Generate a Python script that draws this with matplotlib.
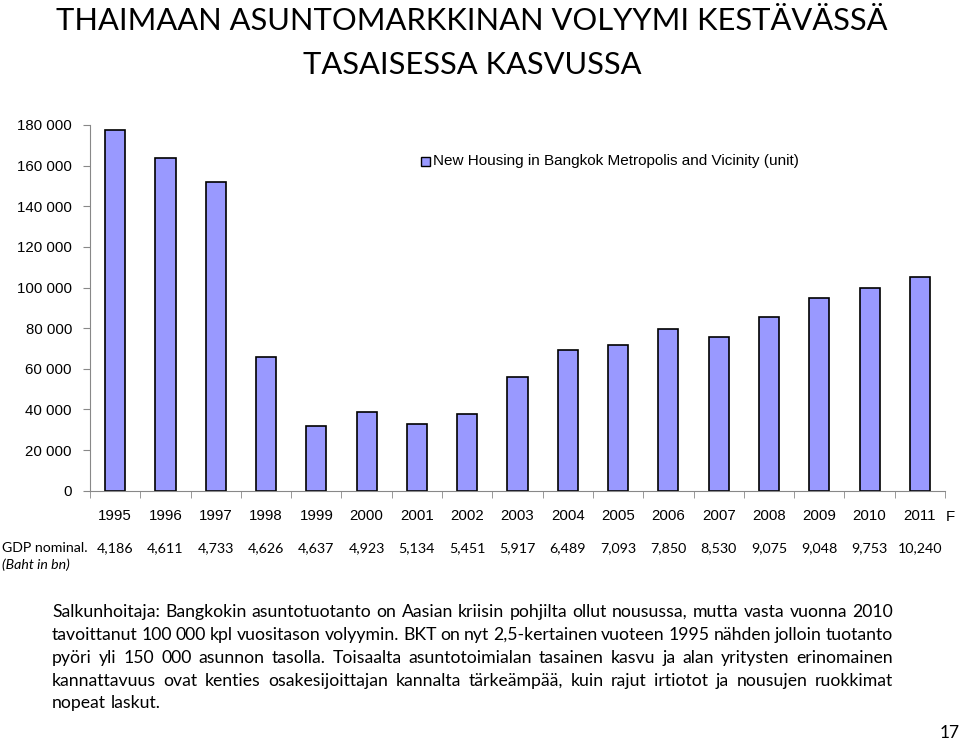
import matplotlib
matplotlib.use("Agg")
import matplotlib.pyplot as plt
import matplotlib.transforms as mtransforms
from matplotlib.patches import Rectangle

years = ["1995", "1996", "1997", "1998", "1999", "2000", "2001", "2002", "2003",
         "2004", "2005", "2006", "2007", "2008", "2009", "2010", "2011"]
housing = [177400, 163900, 152100, 65800, 32000, 38600, 32700, 37900, 56100,
           69300, 71700, 79700, 75600, 85600, 95000, 99900, 105000]
gdp = ["4,186", "4,611", "4,733", "4,626", "4,637", "4,923", "5,134", "5,451",
       "5,917", "6,489", "7,093", "7,850", "8,530", "9,075", "9,048", "9,753",
       "10,240"]
yticks = [0, 20000, 40000, 60000, 80000, 100000, 120000, 140000, 160000, 180000]

title_lines = ["THAIMAAN ASUNTOMARKKINAN VOLYYMI KESTÄVÄSSÄ", "TASAISESSA KASVUSSA"]
legend_label = "New Housing in Bangkok Metropolis and Vicinity (unit)"
para = [
    "Salkunhoitaja: Bangkokin asuntotuotanto on Aasian kriisin pohjilta ollut nousussa, mutta vasta vuonna 2010",
    "tavoittanut 100 000 kpl vuositason volyymin. BKT on nyt 2,5-kertainen vuoteen 1995 nähden jolloin tuotanto",
    "pyöri yli 150 000 asunnon tasolla. Toisaalta asuntotoimialan tasainen kasvu ja alan yritysten erinomainen",
    "kannattavuus ovat kenties osakesijoittajan kannalta tärkeämpää, kuin rajut irtiotot ja nousujen ruokkimat",
    "nopeat laskut.",
]

W, H = 960, 741
fig = plt.figure(figsize=(W / 100, H / 100), dpi=100)
chart_font = "Liberation Sans"
text_font = "Lato"

ax = fig.add_axes([90 / W, 1 - 490.7 / H, 855 / W, 365.7 / H])
x = range(len(years))
ax.bar(x, housing, width=0.4, color="#9999FF", edgecolor="black", linewidth=1.2,
       label=legend_label)
ax.set_xlim(-0.5, len(years) - 0.5)
ax.set_ylim(0, 180000)
ax.set_yticks(yticks)
ax.set_yticklabels([f"{v:,}".replace(",", " ") for v in yticks],
                   fontsize=10.8, family=chart_font)
ax.set_xticks(list(x))
ax.set_xticklabels(years, fontsize=10.8, family=chart_font)
ax.set_xticks([i - 0.5 for i in range(len(years) + 1)], minor=True)
ax.tick_params(axis="x", which="major", length=0, pad=13)
ax.tick_params(axis="x", which="minor", length=5, color="#888888", direction="out")
ax.tick_params(axis="y", length=5, color="#888888", direction="out", pad=8)
for s in ["top", "right"]:
    ax.spines[s].set_visible(False)
for s in ["left", "bottom"]:
    ax.spines[s].set_color("#888888")

# "F" after 2011
ax.text(len(years) - 0.5 + 0.02, -0.072, "F", transform=ax.get_xaxis_transform(),
        fontsize=10.8, family=chart_font, ha="left", va="center")

# legend
fig.patches.append(Rectangle((421 / W, 1 - 166 / H), 9 / W, 9 / H,
                             transform=fig.transFigure, facecolor="#9999FF",
                             edgecolor="black", linewidth=1.0))
fig.text(433 / W, 1 - 161.5 / H, legend_label, fontsize=11, family=chart_font,
         va="center", ha="left")

# title
fig.text(472 / W, 1 - 21 / H, title_lines[0], fontsize=22.2, family=text_font,
         ha="center", va="center")
fig.text(472 / W, 1 - 65 / H, title_lines[1], fontsize=22.2, family=text_font,
         ha="center", va="center")

# GDP row
fig.text(2 / W, 1 - 548 / H, "GDP nominal.", fontsize=10.2, family=text_font,
         ha="left", va="center")
fig.text(2 / W, 1 - 565 / H, "(Baht in bn)", fontsize=10.2, family=text_font,
         style="italic", ha="left", va="center")
trans = mtransforms.blended_transform_factory(ax.transData, fig.transFigure)
for i, g in enumerate(gdp):
    fig.text(i, 1 - 548 / H, g, transform=trans, fontsize=10.3, family=text_font,
             ha="center", va="center")

# justified paragraph
fig.canvas.draw()
renderer = fig.canvas.get_renderer()
left_px, right_px = 52, 893
line_y = [612, 635, 658, 681, 703]
psize = 12.7
for li, line in enumerate(para):
    words = line.split(" ")
    objs = [fig.text(0, 1 - line_y[li] / H, w, fontsize=psize, family=text_font,
                     ha="left", va="center") for w in words]
    widths = [o.get_window_extent(renderer).width for o in objs]
    if li < len(para) - 1 and len(words) > 1:
        gap = (right_px - left_px - sum(widths)) / (len(words) - 1)
    else:
        sp = fig.text(0, 0, "a a", fontsize=psize, family=text_font)
        sa = fig.text(0, 0, "aa", fontsize=psize, family=text_font)
        gap = sp.get_window_extent(renderer).width - sa.get_window_extent(renderer).width
        sp.remove(); sa.remove()
    xp = left_px
    for o, w in zip(objs, widths):
        o.set_x(xp / W)
        xp += w + gap

fig.text(950 / W, 1 - 733 / H, "17", fontsize=12.5, family=text_font,
         ha="center", va="center")

fig.savefig("out.png", dpi=100)
